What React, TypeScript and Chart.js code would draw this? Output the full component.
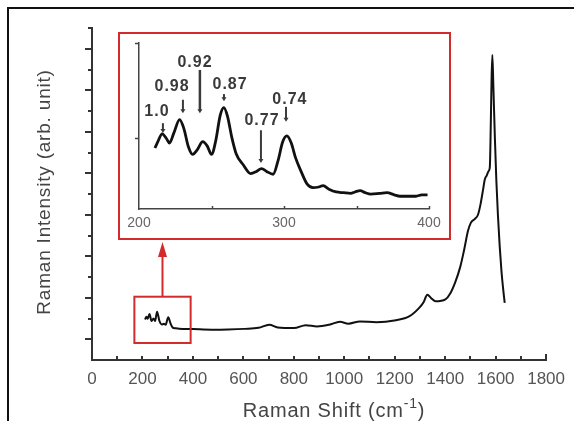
import React, { useEffect, useRef } from 'react';
import { Chart, registerables } from 'chart.js';

Chart.register(...registerables);

// ---------- DATA ----------
const mainShift = [
  210, 216, 221, 228, 236, 244, 250, 258, 267, 277, 285, 292, 302, 312, 320, 330, 345,
  400, 475, 540, 605, 660, 703, 736, 801, 847, 892, 940, 983, 1016, 1062, 1127, 1205,
  1257, 1296, 1315, 1329, 1345, 1362, 1401, 1420, 1440, 1460, 1475, 1490, 1502, 1518,
  1530, 1540, 1550, 1557, 1565, 1572, 1577, 1581, 1584, 1587, 1591, 1597, 1603, 1609,
  1616, 1623, 1630, 1636,
];
const mainIntensity = [
  1.95, 2.08, 1.99, 2.22, 1.88, 2.0, 1.88, 2.33, 1.89, 1.71, 1.75, 1.7, 2.06, 1.74, 1.56, 1.53, 1.51,
  1.49, 1.46, 1.47, 1.5, 1.55, 1.7, 1.57, 1.54, 1.68, 1.62, 1.7, 1.84, 1.75, 1.86, 1.82, 1.92,
  2.1, 2.5, 2.8, 3.15, 2.97, 2.83, 2.92, 3.2, 3.75, 4.5, 5.3, 6.2, 6.62, 6.8,
  7.0, 7.5, 8.2, 8.7, 8.9, 9.1, 9.3, 11.5, 13.6, 14.7, 13.2, 10.7, 8.6, 7.0,
  5.5, 4.3, 3.4, 2.75,
];

const insetShift = [
  211, 213, 216, 219, 221, 224, 228, 231, 234, 237, 240, 244, 247, 250, 253, 256, 258.5,
  261, 264, 267, 272, 277, 281, 284.5, 288, 292.5, 296, 299, 302, 305, 308, 312, 316, 320,
  324, 327, 331, 336, 341, 346, 349, 352.5, 356, 360, 366, 371, 376, 380, 386, 391, 395, 399,
];
const insetIntensity = [
  0.86, 0.95, 1.06, 0.99, 0.93, 1.07, 1.26, 1.13, 0.88, 0.77, 0.83, 0.95, 0.89, 0.77, 0.97, 1.32, 1.43,
  1.31, 1.01, 0.78, 0.62, 0.5, 0.53, 0.57, 0.53, 0.49, 0.69, 0.94, 1.03, 0.93, 0.72, 0.52, 0.35, 0.3,
  0.31, 0.33, 0.28, 0.24, 0.23, 0.22, 0.24, 0.26, 0.23, 0.21, 0.22, 0.23, 0.2, 0.18, 0.18, 0.18, 0.2, 0.2,
];

const mainXTickStep = 200;
const mainXMinorStep = 100;
const mainYTickValues = [1, 2, 3, 4, 5, 6, 7, 8, 9, 10, 11, 12, 13, 14, 15, 16];

const peakLabels = ['1.0', '0.98', '0.92', '0.87', '0.77', '0.74'];
const peakLabelX = [212.4, 222.8, 238.6, 262.8, 284.8, 304.1];
const peakLabelY = [1.37, 1.72, 2.07, 1.76, 1.25, 1.54];
const peakArrowX = [216.5, 230.3, 242, 258.6, 284.1, 301.4];
const peakArrowTop = [1.21, 1.54, 1.96, 1.62, 1.11, 1.44];
const peakArrowBottom = [1.07, 1.35, 1.35, 1.52, 0.65, 1.23];

// zoom box region (data coords of main chart)
const zoomBoxX = [168, 391];
const zoomBoxY = [0.82, 3.05];
const zoomArrowX = 278;

const FONT = 'Arial, "Liberation Sans", Helvetica, sans-serif';
const RED = '#d22b2b';
const INSET_BOTTOM = 241;

function line(ctx: CanvasRenderingContext2D, x1: number, y1: number, x2: number, y2: number) {
  ctx.beginPath();
  ctx.moveTo(x1, y1);
  ctx.lineTo(x2, y2);
  ctx.stroke();
}

const mainDecor = {
  id: 'mainDecor',
  afterDraw(chart: any) {
    const { ctx, chartArea } = chart;
    const xs = chart.scales.x;
    const ys = chart.scales.y;
    ctx.save();
    // outer frame (left & top visible)
    ctx.fillStyle = '#111';
    ctx.fillRect(7, 7, 2, 500);
    ctx.fillRect(7, 7, 700, 2);

    // y ticks
    ctx.strokeStyle = '#333';
    ctx.lineWidth = 2;
    for (const v of mainYTickValues) {
      const py = Math.round(ys.getPixelForValue(v));
      const len = v % 2 === 1 ? 7 : 4;
      line(ctx, chartArea.left - len, py, chartArea.left, py);
    }
    // x minor ticks pointing up
    for (let v = mainXMinorStep; v <= xs.max; v += mainXMinorStep) {
      const px = Math.round(xs.getPixelForValue(v));
      const len = v === xs.max ? 6 : 4;
      line(ctx, px, chartArea.bottom, px, chartArea.bottom - len);
    }

    // zoom box
    const bx1 = xs.getPixelForValue(zoomBoxX[0]);
    const bx2 = xs.getPixelForValue(zoomBoxX[1]);
    const by1 = ys.getPixelForValue(zoomBoxY[1]);
    const by2 = ys.getPixelForValue(zoomBoxY[0]);
    ctx.strokeStyle = RED;
    ctx.lineWidth = 2;
    ctx.strokeRect(bx1, by1, bx2 - bx1, by2 - by1);
    // arrow up to the inset
    const ax = Math.round(xs.getPixelForValue(zoomArrowX)) + 0.5;
    line(ctx, ax, by1, ax, INSET_BOTTOM + 12);
    ctx.fillStyle = RED;
    ctx.beginPath();
    ctx.moveTo(ax, INSET_BOTTOM + 1);
    ctx.lineTo(ax - 4.5, INSET_BOTTOM + 16);
    ctx.lineTo(ax + 4.5, INSET_BOTTOM + 16);
    ctx.closePath();
    ctx.fill();

    // axis titles
    ctx.fillStyle = '#444';
    (ctx as any).letterSpacing = '0.8px';
    ctx.textBaseline = 'alphabetic';
    const main = 'Raman Shift (cm';
    const sup = '-1';
    const close = ')';
    ctx.font = `20px ${FONT}`;
    const w1 = ctx.measureText(main).width;
    const w3 = ctx.measureText(close).width;
    ctx.font = `14px ${FONT}`;
    const w2 = ctx.measureText(sup).width;
    const total = w1 + w2 + w3;
    const cx = 334;
    let tx = cx - total / 2;
    const base = 417;
    ctx.textAlign = 'left';
    ctx.font = `20px ${FONT}`;
    ctx.fillText(main, tx, base);
    tx += w1;
    ctx.font = `14px ${FONT}`;
    ctx.fillText(sup, tx, base - 9);
    tx += w2;
    ctx.font = `20px ${FONT}`;
    ctx.fillText(close, tx, base);

    ctx.translate(45, 192);
    ctx.rotate(-Math.PI / 2);
    ctx.textAlign = 'center';
    ctx.textBaseline = 'middle';
    ctx.font = `19px ${FONT}`;
    ctx.fillText('Raman Intensity (arb. unit)', 0, 0);
    ctx.restore();
  },
};

const insetDecor = {
  id: 'insetDecor',
  afterDraw(chart: any) {
    const { ctx, chartArea } = chart;
    const xs = chart.scales.x;
    const ys = chart.scales.y;
    ctx.save();
    ctx.strokeStyle = '#444';
    ctx.lineWidth = 1.5;
    // y ticks
    for (const v of [1, ys.max]) {
      const py = Math.round(ys.getPixelForValue(v)) + 0.5;
      line(ctx, chartArea.left - 4, py, chartArea.left, py);
    }
    // x ticks
    for (let v = 250; v <= 400; v += 50) {
      const px = Math.round(xs.getPixelForValue(v)) + 0.5;
      line(ctx, px, chartArea.bottom, px, chartArea.bottom - 3);
    }
    // peak labels and arrows
    ctx.fillStyle = '#3a3a3a';
    ctx.strokeStyle = '#3a3a3a';
    ctx.font = `bold 16px ${FONT}`;
    (ctx as any).letterSpacing = '1px';
    ctx.textAlign = 'center';
    ctx.textBaseline = 'middle';
    peakLabels.forEach((t, i) => {
      ctx.fillText(t, xs.getPixelForValue(peakLabelX[i]), ys.getPixelForValue(peakLabelY[i]));
      const ax = xs.getPixelForValue(peakArrowX[i]);
      const y1 = ys.getPixelForValue(peakArrowTop[i]);
      const y2 = ys.getPixelForValue(peakArrowBottom[i]);
      ctx.lineWidth = i === 2 ? 2.5 : 2;
      line(ctx, ax, y1, ax, y2 - 3);
      ctx.beginPath();
      ctx.moveTo(ax, y2);
      ctx.lineTo(ax - 2.5, y2 - 4);
      ctx.lineTo(ax + 2.5, y2 - 4);
      ctx.closePath();
      ctx.fill();
    });
    ctx.restore();
  },
};

export default function App() {
  const mainRef = useRef<HTMLCanvasElement>(null);
  const insetRef = useRef<HTMLCanvasElement>(null);

  useEffect(() => {
    const mainChart = new Chart(mainRef.current as HTMLCanvasElement, {
      type: 'line',
      data: {
        datasets: [
          {
            data: mainShift.map((s, i) => ({ x: s, y: mainIntensity[i] })),
            borderColor: '#111',
            borderWidth: 2,
            pointRadius: 0,
            cubicInterpolationMode: 'monotone',
            fill: false,
          },
        ],
      },
      options: {
        responsive: false,
        animation: false,
        devicePixelRatio: 1,
        layout: { padding: { left: 0, top: 28, right: 22, bottom: 0 } },
        plugins: { legend: { display: false }, tooltip: { enabled: false }, title: { display: false } },
        scales: {
          x: {
            type: 'linear',
            min: 0,
            max: 1800,
            ticks: {
              stepSize: mainXTickStep,
              color: '#555',
              font: { family: FONT, size: 17 },
              padding: 9,
              maxRotation: 0,
              autoSkip: false,
              callback: (v: any) => String(v),
            },
            grid: { display: false, drawTicks: false },
            border: { display: true, color: '#333', width: 2 },
            afterFit: (s: any) => {
              s.height = 61;
            },
          },
          y: {
            type: 'linear',
            min: 0,
            max: 16,
            ticks: { display: false },
            grid: { display: false, drawTicks: false },
            border: { display: true, color: '#333', width: 2 },
            afterFit: (s: any) => {
              s.width = 92;
            },
          },
        },
      } as any,
      plugins: [mainDecor],
    });

    const insetChart = new Chart(insetRef.current as HTMLCanvasElement, {
      type: 'line',
      data: {
        datasets: [
          {
            data: insetShift.map((s, i) => ({ x: s, y: insetIntensity[i] })),
            borderColor: '#111',
            borderWidth: 2.8,
            pointRadius: 0,
            cubicInterpolationMode: 'monotone',
            fill: false,
          },
        ],
      },
      options: {
        responsive: false,
        animation: false,
        devicePixelRatio: 1,
        layout: { padding: { left: 0, top: 9, right: 20, bottom: 0 } },
        plugins: { legend: { display: false }, tooltip: { enabled: false } },
        scales: {
          x: {
            type: 'linear',
            min: 200,
            max: 400,
            ticks: {
              stepSize: 100,
              color: '#666',
              font: { family: FONT, size: 14 },
              padding: 6,
              maxRotation: 0,
              callback: (v: any) => String(v),
            },
            grid: { display: false, drawTicks: false },
            border: { display: true, color: '#444', width: 1.5 },
            afterFit: (s: any) => {
              s.height = 29;
            },
          },
          y: {
            type: 'linear',
            min: 0,
            max: 2.34,
            ticks: { display: false },
            grid: { display: false, drawTicks: false },
            border: { display: true, color: '#444', width: 1.5 },
            afterFit: (s: any) => {
              s.width = 19;
            },
          },
        },
      } as any,
      plugins: [insetDecor],
    });

    return () => {
      mainChart.destroy();
      insetChart.destroy();
    };
  }, []);

  return (
    <div style={{ position: 'absolute', left: 0, top: 0, width: 574, height: 421, overflow: 'hidden', background: '#fff' }}>
      <canvas ref={mainRef} width={574} height={421} style={{ position: 'absolute', left: 0, top: 0 }} />
      <div
        style={{
          position: 'absolute',
          left: 118,
          top: 32,
          width: 329,
          height: 204,
          border: `2px solid ${RED}`,
          background: '#fff',
        }}
      >
        <canvas ref={insetRef} width={329} height={204} style={{ position: 'absolute', left: 0, top: 0 }} />
      </div>
    </div>
  );
}
